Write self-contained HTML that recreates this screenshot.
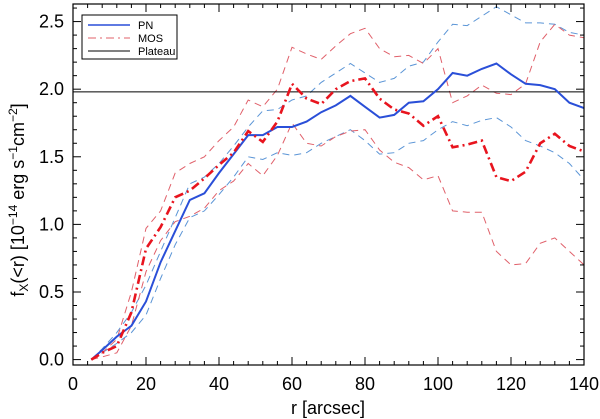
<!DOCTYPE html>
<html><head><meta charset="utf-8"><style>body{margin:0;background:#fff}svg{display:block;font-family:"Liberation Sans",sans-serif}</style></head>
<body>
<svg id="c" width="600" height="419"></svg>
<script>
const radii=[5,8,12,16,20,24,28,32,36,40,44,48,52,56,60,64,68,72,76,80,84,88,92,96,100,104,108,112,116,120,124,128,132,136,140];
const pnValues=[0,0.07,0.17,0.25,0.43,0.72,0.95,1.18,1.23,1.38,1.52,1.66,1.66,1.72,1.72,1.76,1.83,1.88,1.95,1.87,1.79,1.81,1.90,1.91,2.0,2.12,2.10,2.15,2.19,2.11,2.04,2.03,2.00,1.90,1.86];
const pnUpper=[0,0.08,0.2,0.35,0.55,0.8,1.05,1.3,1.35,1.45,1.58,1.72,1.84,1.85,1.92,1.95,2.05,2.12,2.19,2.12,2.05,2.08,2.17,2.2,2.35,2.48,2.47,2.54,2.61,2.55,2.49,2.49,2.48,2.42,2.4];
const pnLower=[0,0.05,0.12,0.2,0.33,0.6,0.85,1.05,1.1,1.22,1.35,1.5,1.48,1.53,1.51,1.53,1.6,1.65,1.7,1.62,1.52,1.53,1.6,1.62,1.7,1.76,1.73,1.77,1.79,1.72,1.62,1.58,1.53,1.45,1.33];
const mosValues=[0,0.05,0.1,0.35,0.82,0.98,1.2,1.25,1.34,1.44,1.53,1.69,1.61,1.76,2.04,1.93,1.89,2.0,2.06,2.08,1.93,1.85,1.82,1.73,1.80,1.57,1.59,1.62,1.35,1.32,1.39,1.60,1.67,1.58,1.54];
const mosUpper=[0,0.05,0.15,0.5,0.97,1.1,1.38,1.45,1.5,1.62,1.72,1.92,1.87,2.0,2.31,2.26,2.22,2.32,2.41,2.45,2.3,2.24,2.25,2.19,2.3,1.9,1.95,2.03,1.97,1.96,2.04,2.35,2.48,2.4,2.38];
const mosLower=[0,0.02,0.05,0.25,0.65,0.88,1.02,1.06,1.12,1.25,1.32,1.45,1.36,1.51,1.75,1.6,1.58,1.65,1.69,1.7,1.55,1.46,1.42,1.33,1.36,1.1,1.09,1.09,0.8,0.7,0.71,0.86,0.9,0.8,0.7];
const plateau=1.98;
const xTicks=[0,20,40,60,80,100,120,140];
const yTicks=[0.0,0.5,1.0,1.5,2.0,2.5];
const L=73,R=584,T=4,B=365,X0=0,X1=140,Y0=-0.04,Y1=2.63;
const sx=v=>L+(v-X0)/(X1-X0)*(R-L), sy=v=>B-(v-Y0)/(Y1-Y0)*(B-T);
const svg=document.getElementById('c'),NS='http://www.w3.org/2000/svg';
function mk(t,a,p){const e=document.createElementNS(NS,t);for(const k in a)e.setAttribute(k,a[k]);(p||svg).appendChild(e);return e;}
const clip=mk('clipPath',{id:'cl'});mk('rect',{x:L,y:T,width:R-L,height:B-T},clip);
const g=mk('g',{'clip-path':'url(#cl)'});
function series(vals,color,w,dash,name){const d=vals.map((v,i)=>(i?'L':'M')+sx(radii[i]).toFixed(1)+','+sy(v).toFixed(1)).join('');
const p=mk('path',{d:d,fill:'none',stroke:color,'stroke-width':w,'stroke-dasharray':dash},g);

}
series(pnUpper,'#5b95d6',1,'7,5','pn-upper-bound');
series(pnLower,'#5b95d6',1,'7,5','pn-lower-bound');
series(mosUpper,'#e0606a',1,'7,5','mos-upper-bound');
series(mosLower,'#e0606a',1,'7,5','mos-lower-bound');
const pl=mk('line',{x1:L,x2:R,y1:sy(plateau),y2:sy(plateau),stroke:'#000','stroke-width':1},g);


series(pnValues,'#2a4fd8',2,'none','pn-line');
series(mosValues,'#e8141e',2.6,'9,4,2,4','mos-line');
mk('rect',{x:L,y:T,width:R-L,height:B-T,fill:'none',stroke:'#000','stroke-width':1.2});
for(let v=0;v<=140;v+=4){const x=sx(v),m=v%20===0,l=m?8:4;mk('line',{x1:x,x2:x,y1:B,y2:B-l,stroke:'#000'});mk('line',{x1:x,x2:x,y1:T,y2:T+l,stroke:'#000'});}
for(let i=0;i<=26;i++){const v=i/10,y=sy(v),m=i%5===0,l=m?8:4;mk('line',{x1:L,x2:L+l,y1:y,y2:y,stroke:'#000'});mk('line',{x1:R,x2:R-l,y1:y,y2:y,stroke:'#000'});}
xTicks.forEach(v=>{const t=mk('text',{x:sx(v),y:390,'font-size':18,'text-anchor':'middle'});t.textContent=v;});
yTicks.forEach(v=>{const t=mk('text',{x:64,y:sy(v)+6,'font-size':18,'text-anchor':'end'});t.textContent=v.toFixed(1);});
</script>
<svg width="600" height="419" style="position:absolute;left:0;top:0">
<text x="328" y="414" font-size="18" text-anchor="middle" font-family="Liberation Sans,sans-serif">r [arcsec]</text>
<text transform="translate(24,200) rotate(-90)" font-size="18" text-anchor="middle" font-family="Liberation Sans,sans-serif">f<tspan font-size="12" dy="4">X</tspan><tspan dy="-4">(&lt;r) [10</tspan><tspan font-size="12" dy="-7">−14</tspan><tspan dy="7"> erg s</tspan><tspan font-size="12" dy="-7">−1</tspan><tspan dy="7">cm</tspan><tspan font-size="12" dy="-7">−2</tspan><tspan dy="7">]</tspan></text>
<g font-family="Liberation Sans,sans-serif" font-size="11">
<rect x="82" y="15" width="95" height="44" fill="#fff" stroke="#000"/>
<line x1="88" x2="130" y1="25" y2="25" stroke="#2a4fd8" stroke-width="1.5"/><text x="138" y="29">PN</text>
<line x1="88" x2="130" y1="38" y2="38" stroke="#e0606a" stroke-width="1" stroke-dasharray="8,4,2,4"/><text x="138" y="42">MOS</text>
<line x1="88" x2="130" y1="51" y2="51" stroke="#000" stroke-width="1"/><text x="138" y="55">Plateau</text>
</g>
</svg>
</body></html>
